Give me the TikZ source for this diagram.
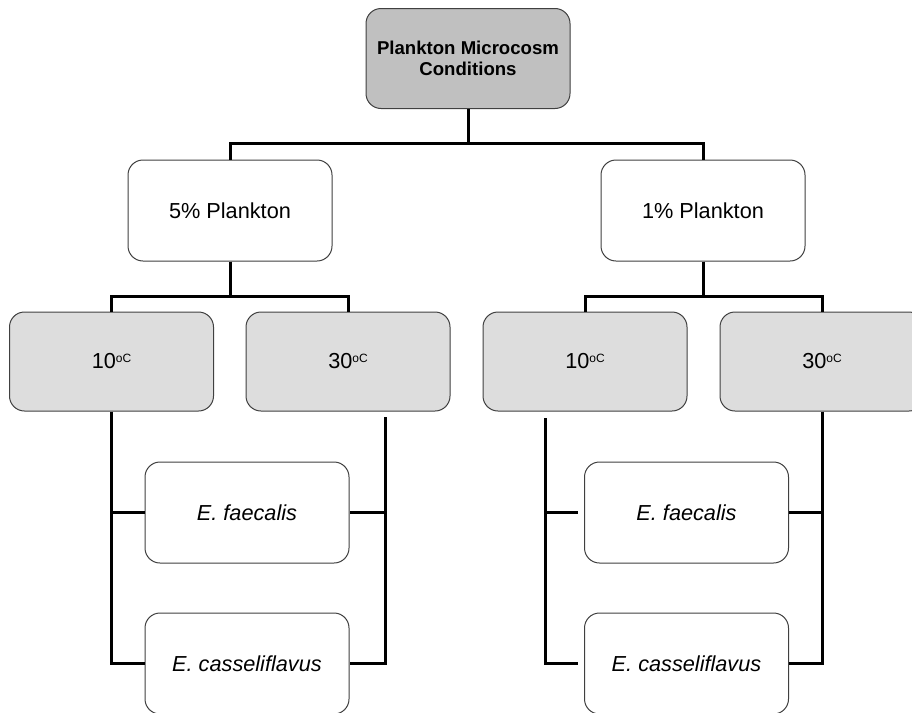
\documentclass[tikz,border=0pt]{standalone}
\usepackage{fontspec}
\setmainfont{Liberation Sans}
\usepackage{tikz}
\usepackage{xcolor}
\definecolor{topgrey}{HTML}{C0C0C0}
\definecolor{tempgrey}{HTML}{DDDDDD}
\definecolor{edgegrey}{HTML}{404040}
\newcommand{\degC}[1]{#1\raisebox{6.5pt}{\fontsize{12}{12}\selectfont oC}}

\begin{document}
\begin{tikzpicture}[x=1pt,y=-1pt,
    box/.style={draw=edgegrey,line width=1pt,rounded corners=15pt,fill=white,
        minimum width=204pt,minimum height=101pt,inner sep=0pt,align=center,
        font=\fontsize{21.7}{26}\selectfont},
    topbox/.style={box,fill=topgrey,minimum height=100pt,
        font=\fontsize{18.6}{21}\selectfont\bfseries},
    tempbox/.style={box,fill=tempgrey,minimum height=99pt},
    conn/.style={black,line width=3pt}]
            \useasboundingbox (0,0) rectangle (912,712);
            \clip (0,0) rectangle (912,712);

            \node[topbox] (top) at (468,58.5){Plankton Microcosm\\Conditions};
            \node[box] (p5) at (230,210.5){5\% Plankton};
            \node[box] (p1) at (703,210.5){1\% Plankton};

            \node[tempbox] (t10a) at (111.5,361.5){\degC{10}};
            \node[tempbox] (t30a) at (348,361.5){\degC{30}};
            \node[tempbox] (t10b) at (585,361.5){\degC{10}};
            \node[tempbox] (t30b) at (822,361.5){\degC{30}};

            \node[box] (efa) at (247,512.5){\itshape E. faecalis};
            \node[box] (eca) at (247,663.5){\itshape E. casseliflavus};
            \node[box] (efb) at (686.5,512.5){\itshape E. faecalis};
            \node[box] (ecb) at (686.5,663.5){\itshape E. casseliflavus};

            % tree above the temperatures
            \draw[conn] (top.south) -- ++(0,34.5) -| (p5.north);
            \draw[conn] (top.south) -- ++(0,34.5) -| (p1.north);
            \draw[conn] (p5.south) -- ++(0,34.5) -| (t10a.north);
            \draw[conn] (p5.south) -- ++(0,34.5) -| (t30a.north);
            \draw[conn] (p1.south) -- ++(0,34.5) -| (t10b.north);
            \draw[conn] (p1.south) -- ++(0,34.5) -| (t30b.north);

            % brackets to the strains, 5% side
            \coordinate (ra) at (385,417);
            \draw[conn] (t10a.south) |- (eca.west);
            \draw[conn] (t10a.south |- efa.west) -- (efa.west);
            \draw[conn] (ra) |- (eca.east);
            \draw[conn] (ra |- efa.east) -- (efa.east);

            % brackets to the strains, 1% side
            \coordinate (lb) at (545,418);
            \draw[conn] (lb) |- ([xshift=-6pt]ecb.west);
            \draw[conn] (lb |- efb.west) -- ([xshift=-6pt]efb.west);
            \draw[conn] (t30b.south) |- (ecb.east);
            \draw[conn] (t30b.south |- efb.east) -- (efb.east);
        \end{tikzpicture}
\end{document}
